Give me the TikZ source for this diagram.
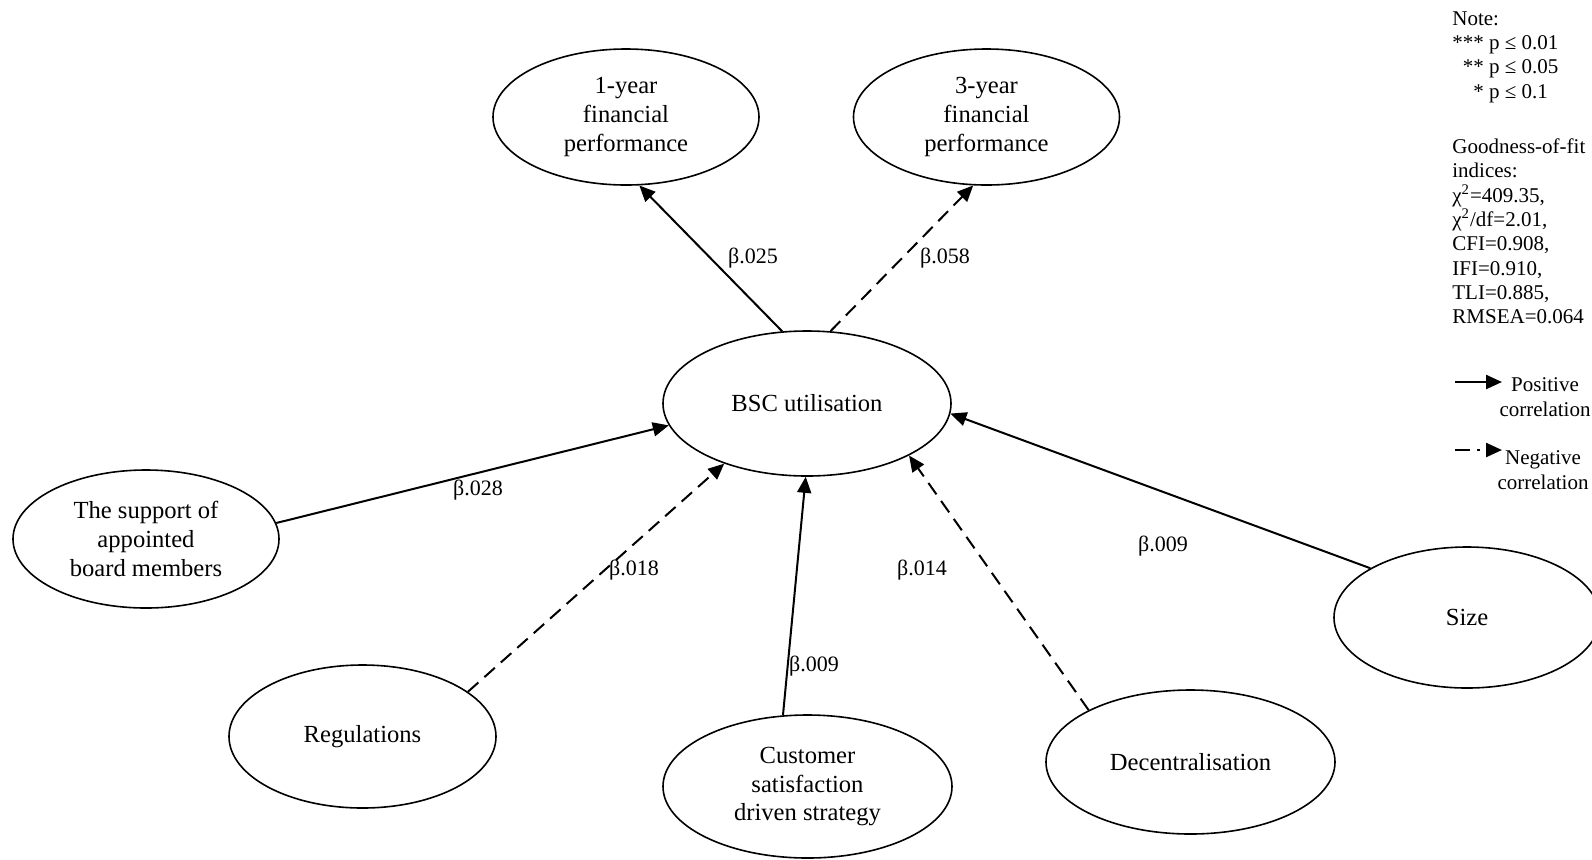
\documentclass[tikz,border=0pt]{standalone}
\usepackage{fontspec}
\setmainfont{Liberation Serif}
\usetikzlibrary{arrows.meta,shapes.geometric}

\begin{document}
\begin{tikzpicture}[x=0.5pt,y=-0.5pt,
	constr/.style={draw,ellipse,line width=0.8pt,inner sep=0pt,align=center,font=\fontsize{12.3}{14.4}\selectfont},
	posarrow/.style={line width=1pt,-{Triangle[length=8pt,width=7pt]}},
	negarrow/.style={posarrow,dash pattern=on 7pt off 4pt},
	coef/.style={inner sep=0pt,font=\fontsize{11}{13}\selectfont},
	legtext/.style={inner sep=0pt,align=left,font=\fontsize{10.5}{12.15}\selectfont}]
	\useasboundingbox (0,0) rectangle (1592,859);

	%constructs
	\node[constr,minimum width=133pt,minimum height=68pt] (one) at (626,117) {1-year\\financial\\performance};
	\node[constr,minimum width=133pt,minimum height=68pt] (three) at (986.5,117) {3-year\\financial\\performance};
	\node[constr,minimum width=144pt,minimum height=72.5pt] (bsc) at (807,403.5) {BSC utilisation};
	\node[constr,minimum width=133pt,minimum height=69pt] (support) at (146,539) {The support of\\appointed\\board members};
	\node[constr,minimum width=133.5pt,minimum height=71.5pt] (regul) at (362.5,736.5) {Regulations};
	\node[constr,minimum width=144.5pt,minimum height=71.5pt] (cust) at (807.5,786.5) {Customer\\satisfaction\\driven strategy};
	\node[constr,minimum width=144.5pt,minimum height=72pt] (decen) at (1190.5,762) {Decentralisation};
	\node[constr,minimum width=133pt,minimum height=70.5pt] (size) at (1467,617.5) {Size};

	%paths
	\draw[posarrow] (bsc.109) -- (one.281);
	\draw[negarrow] (bsc.72) -- (three.259);
	\draw[posarrow] (support.7) -- (bsc.189);
	\draw[negarrow] (regul.23) -- (bsc.216);
	\draw[posarrow] (cust.109) -- (bsc.269);
	\draw[negarrow] (decen.153) -- (bsc.333);
	\draw[posarrow] (size.153) -- (bsc.356);

	%coefficients
	\node[coef] (b1) at (753,258) {β.025};
	\node[coef] (b3) at (945,258) {β.058};
	\node[coef] (bsup) at (478,490) {β.028};
	\node[coef] (breg) at (634,570) {β.018};
	\node[coef] (bcus) at (814,666) {β.009};
	\node[coef] (bdec) at (922,570) {β.014};
	\node[coef] (bsiz) at (1163,546) {β.009};

	%note
	\node[legtext,anchor=north west] (note) at (1452,11) {Note:\\*** p ≤ 0.01\\\phantom{*}** p ≤ 0.05\\\phantom{**}* p ≤ 0.1};
	\node[legtext,anchor=north west] (gof) at (1452,138.5) {Goodness-of-fit\\indices:\\χ\textsuperscript{2}=409.35,\\χ\textsuperscript{2}/df=2.01,\\CFI=0.908,\\IFI=0.910,\\TLI=0.885,\\RMSEA=0.064};

	%legend
	\coordinate (posA) at (1455,382); \coordinate (posB) at (1502,382);
	\draw[posarrow,line width=1.2pt] (posA) -- (posB);
	\node[legtext,align=center] (postext) at (1545,397) {Positive\\correlation};
	\coordinate (negA) at (1455,450); \coordinate (negB) at (1502,450);
	\draw[posarrow,line width=1.2pt,dash pattern=on 7.5pt off 3.5pt on 1.5pt off 3pt] (negA) -- (negB);
	\node[legtext,align=center] (negtext) at (1543,470) {Negative\\correlation};
\end{tikzpicture}
\end{document}
